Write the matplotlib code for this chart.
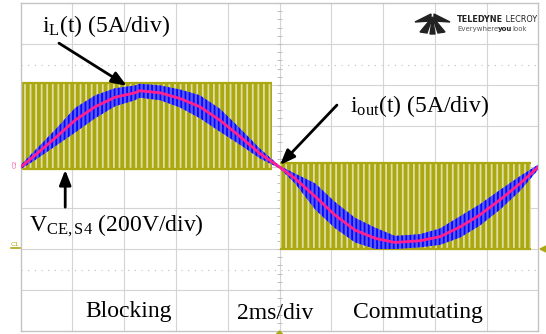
import numpy as np
import matplotlib.pyplot as plt
from matplotlib.patches import Polygon

plt.rcParams['font.family'] = ['Liberation Serif', 'DejaVu Serif']
plt.rcParams['mathtext.fontset'] = 'custom'
plt.rcParams['mathtext.rm'] = 'Liberation Serif'
plt.rcParams['mathtext.it'] = 'Liberation Serif:italic'
plt.rcParams['hatch.linewidth'] = 1.3

# escalas del osciloscopio
T_DIV = 2.0      # ms/div
I_DIV = 5.0      # A/div
V_DIV = 200.0    # V/div
V_ZERO_DIV = -2.0  # posicion del cero de C1

# corriente de salida
t_ms = [0, 0.56, 1.32, 2.1, 2.88, 3.64, 4.42, 4.6, 5.38, 6.16, 6.92, 7.7, 8.48, 9.24,
        10.0, 10.6, 11.38, 12.14, 12.92, 13.7, 14.46, 15.42, 16.2, 16.98, 17.74, 18.52, 19.3, 20.0]
i_out = [0, 1.45, 3.5, 5.7, 7.35, 8.5, 9.05, 9.3, 9.05, 8.35, 7.35, 5.7, 3.7, 1.65,
         0, -1.4, -3.6, -5.85, -7.7, -8.7, -9.2, -9.0, -8.5, -7.3, -5.85, -4.0, -2.0, 0]
# rizado de i_L (semiamplitud, A)
i_ripple = [0.25, 0.6, 1.0, 1.5, 1.4, 1.1, 0.9, 0.85, 0.9, 1.1, 1.4, 1.4, 1.0, 0.6,
            0.15, 0.6, 1.6, 1.6, 1.5, 1.3, 0.8, 0.8, 1.0, 1.3, 1.3, 1.2, 0.9, 0.3]

# tension V_CE,S4: dos tramos (bloqueo / conmutacion)
v_seg_start = [0.06, 10.0]
v_seg_end = [9.7, 19.72]
v_low = [390, 0]
v_high = [808, 418]

olive = '#aca812'
olive_light = '#e0dfa2'

fig = plt.figure(figsize=(5.46, 3.34), dpi=100)
ax = fig.add_axes([20.7 / 546, 3 / 334, 517.6 / 546, 328 / 334])
ax.set_xlim(0, 10)
ax.set_ylim(-4, 4)
ax.set_xticks([])
ax.set_yticks([])
for s in ax.spines.values():
    s.set_color('#c4c4c4')
    s.set_linewidth(1.0)

# reticula
for k in range(1, 10):
    ax.axvline(k, color='#d4d4d4', lw=0.8, zorder=0)
for k in range(-3, 4):
    ax.axhline(k, color='#d4d4d4', lw=0.8, zorder=0)
ax.hlines([2.5, -2.5], 0, 10, color='#bdbdbd', lw=0.8, ls=(0, (1, 5)), zorder=0)
tk = np.arange(0, 10.01, 0.2)
ax.vlines(tk, -0.05, 0.05, color='#bdbdbd', lw=0.7, zorder=0)
tk = np.arange(-4, 4.01, 0.2)
ax.hlines(tk, 4.96, 5.04, color='#bdbdbd', lw=0.7, zorder=0)

# V_CE
for x0, x1, lo, hi in zip(v_seg_start, v_seg_end, v_low, v_high):
    x = np.array([x0, x1]) / T_DIV
    ylo = lo / V_DIV + V_ZERO_DIV
    yhi = hi / V_DIV + V_ZERO_DIV
    ax.fill_between(x, [ylo, ylo], [yhi, yhi], facecolor=olive, edgecolor=olive_light,
                    hatch='|||', lw=0, zorder=2)
    ax.hlines([ylo, yhi], x[0], x[1], color=olive, lw=1.6, zorder=2)

# i_L con rizado
t = np.array(t_ms) / T_DIV
i = np.array(i_out)
r = np.array(i_ripple)
ax.fill_between(t, (i - r) / I_DIV, (i + r) / I_DIV, facecolor='#5a5af5',
                edgecolor='#0808ff', hatch='||||', lw=0, zorder=3)
# i_out
ax.plot(t, i / I_DIV, color='#ff1f8f', lw=2.0, zorder=4, solid_capstyle='round')

# textos y flechas
fs = 17
ax.text(0.41, 3.30, r'i$_{\rm L}$(t) (5A/div)', fontsize=fs, va='baseline', zorder=6)
ax.text(6.36, 1.34, r'i$_{\rm out}$(t) (5A/div)', fontsize=fs, va='baseline', zorder=6)
ax.text(0.16, -1.56, r'V$_{\rm CE,S4}$ (200V/div)', fontsize=fs, va='baseline', zorder=6)
ax.text(2.09, -3.66, 'Blocking', fontsize=fs, ha='center', va='baseline', zorder=6)
ax.text(4.91, -3.71, '2ms/div', fontsize=fs, ha='center', va='baseline', zorder=6)
ax.text(7.68, -3.68, 'Commutating', fontsize=fs, ha='center', va='baseline', zorder=6)

arrow = dict(arrowstyle='-|>,head_length=0.9,head_width=0.35', color='k', lw=2.0,
             shrinkA=0, shrinkB=0)
ax.annotate('', xy=(2.05, 1.98), xytext=(0.74, 3.02), arrowprops=arrow, zorder=6)
ax.annotate('', xy=(5.01, 0.05), xytext=(6.11, 1.51), arrowprops=arrow, zorder=6)
ax.annotate('', xy=(0.86, -0.07), xytext=(0.86, -0.98), arrowprops=arrow, zorder=6)


def fx(px):
    return px / 546


def fy(py):
    return 1 - py / 334


# marcadores de canal
fig.text(fx(15), fy(164), 'C2', color='#ff4fa0', fontsize=4.5, rotation=90,
         ha='center', va='center', family='DejaVu Sans')
fig.text(fx(15), fy(244), 'C1', color=olive, fontsize=4.5, ha='center', va='center',
         family='DejaVu Sans')
fig.add_artist(plt.Line2D([fx(11), fx(20)], [fy(248), fy(248)], color=olive, lw=1.2))
fig.add_artist(Polygon([(fx(540), fy(249)), (fx(546), fy(246)), (fx(546), fy(252))],
                       closed=True, color=olive, transform=fig.transFigure))
fig.add_artist(Polygon([(fx(279.5), fy(331)), (fx(276.5), fy(334)), (fx(282.5), fy(334))],
                       closed=True, color=olive, transform=fig.transFigure))

# logo
logo = [
    [(415, 22), (431, 14), (431, 21)],
    [(450, 22), (434, 14), (434, 21)],
    [(432.5, 17), (420, 32), (427, 33)],
    [(432.5, 17), (430, 34), (435, 34)],
    [(432.5, 17), (438, 33), (445, 32)],
]
for tri in logo:
    fig.add_artist(Polygon([(fx(a), fy(b)) for a, b in tri], closed=True,
                           color='#222222', transform=fig.transFigure))

renderer = fig.canvas.get_renderer()


def text_run(x_px, y_px, parts, size):
    # escribe trozos de texto seguidos en la misma linea
    x = x_px
    for s, w, c in parts:
        tt = fig.text(fx(x), fy(y_px), s, fontsize=size, weight=w, color=c,
                      family='DejaVu Sans', va='baseline')
        x += tt.get_window_extent(renderer).width


text_run(457, 22.5, [('TELEDYNE', 'bold', '#222222'), (' LECROY', 'normal', '#222222')], 5.9)
text_run(457, 31, [('Everywhere', 'normal', '#555555'), ('you', 'bold', '#222222'),
                   ('look', 'normal', '#555555')], 5.0)

fig.savefig('out.png', dpi=100)
